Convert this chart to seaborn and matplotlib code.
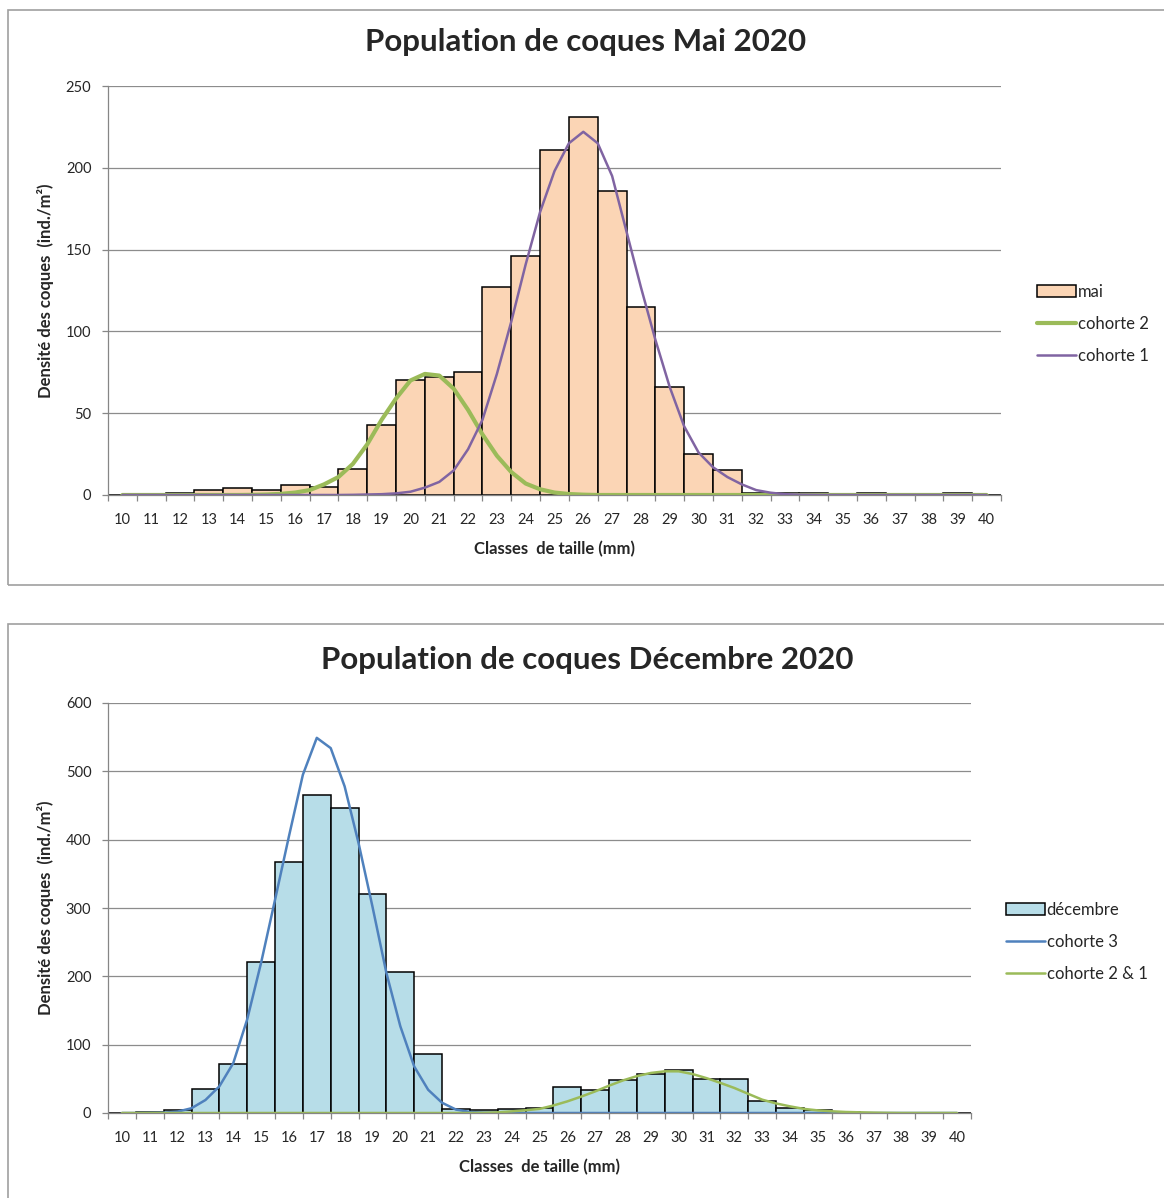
import numpy as np
import pandas as pd
import matplotlib.pyplot as plt
import seaborn as sns
from matplotlib.patches import Rectangle

sns.set_style('white')
plt.rcParams['font.family'] = ['Lato', 'DejaVu Sans']

# size classes (mm) and the positions where the fitted curves are sampled
classes = list(range(10, 41))
classes_fine = list(np.arange(10, 40.5, 0.5))

# May 2020 densities (ind./m2), one per class 10..40
mai = [0, 0, 1, 3, 4, 3, 6, 5, 16, 43, 70, 72, 75, 127, 146, 211,
       231, 186, 115, 66, 25, 15, 1.5, 1, 1, 0, 1, 0, 0, 1, 0]

# cohort curves, read every half mm from 10 to 40
cohorte2_mai = [0, 0, 0, 0, 0, 0, 0, 0, 0, 0.1, 0.3, 0.7, 1.5, 3, 6.5, 11,
                19, 31, 46, 59, 70, 74, 73, 65, 52, 37, 24, 14, 7, 3.5, 1.5,
                0.6, 0.2] + [0] * 28
cohorte1_mai = [0] * 16 + [0.1, 0.3, 0.5, 1, 2, 4.5, 8, 15, 28, 46, 74, 106,
                           141, 173, 198, 215, 222, 215, 195, 161, 127, 95,
                           66, 42, 26, 17, 11, 6.5, 3, 1.4, 0.5, 0.2,
                           0.1] + [0] * 12

# December 2020
decembre = [0, 2, 4, 35, 71, 221, 368, 465, 447, 320, 206, 86, 6, 4, 6, 8,
            38, 33, 48, 57, 63, 50, 50, 17, 7, 5, 2, 0, 0, 0, 0]
cohorte3_dec = [0, 0, 0.2, 0.5, 2, 7, 19, 39, 73, 137, 220, 312, 405, 495,
                549, 534, 478, 395, 302, 205, 127, 68, 34, 15, 5, 1.5, 0.5,
                0.2] + [0] * 33
cohorte21_dec = [0] * 26 + [0.3, 1, 2.4, 4, 6, 11, 17, 24, 31.6, 40, 47.7,
                            54, 58.6, 61, 61, 57, 51, 44, 36.6, 28, 19.5, 14,
                            9.7, 6, 3.8, 2.5, 1.5, 1, 0.5, 0.2] + [0] * 5

W, H = 1164, 1198
fig = plt.figure(figsize=(W / 100, H / 100), dpi=100)
ax1 = fig.add_axes([108 / W, 1 - 495 / H, 893 / W, 409 / H])
ax2 = fig.add_axes([108 / W, 1 - 1113 / H, 863 / W, 410 / H])

# panel borders
for y0, y1 in [(10, 585), (624, 1205)]:
    fig.patches.append(Rectangle((8 / W, 1 - y1 / H), 1.2, (y1 - y0) / H,
                                 transform=fig.transFigure, fill=False,
                                 ec='#a0a0a0', lw=1.2))


def draw(ax, bars, bar_label, bar_color, curves, ymax, ystep):
    df = pd.DataFrame({'classe': classes, 'densite': bars})
    sns.barplot(data=df, x='classe', y='densite', native_scale=True, width=1,
                color=bar_color, saturation=1, edgecolor='black',
                linewidth=1.1, errorbar=None, label=bar_label, ax=ax)
    for vals, lab, col, lw in curves:
        sns.lineplot(x=classes_fine, y=vals, color=col, lw=lw, label=lab,
                     solid_joinstyle='round', solid_capstyle='round', ax=ax)
    ax.set_xlim(9.5, 40.5)
    ax.set_ylim(0, ymax)
    ax.set_xticks(classes)
    ax.set_xticklabels([str(c) for c in classes])
    ax.set_xticks(np.arange(9.5, 41, 1), minor=True)
    ax.tick_params(axis='x', which='major', length=0, pad=13, labelsize=10.5)
    ax.tick_params(axis='x', which='minor', length=4.5, width=0.9,
                   color='#868686', bottom=True)
    ax.set_yticks(np.arange(0, ymax + 1, ystep))
    ax.tick_params(axis='y', length=4, width=0.9, color='#868686', pad=8,
                   labelsize=10.5, left=True)
    ax.yaxis.grid(True, color='#8c8c8c', lw=0.9)
    ax.set_axisbelow(True)
    for s in ['top', 'right']:
        ax.spines[s].set_visible(False)
    for s in ['left', 'bottom']:
        ax.spines[s].set_color('#868686')
        ax.spines[s].set_linewidth(0.9)
    ax.set_xlabel('Classes  de taille (mm)', fontweight='bold', fontsize=12)
    ax.xaxis.set_label_coords(0.5, -0.112)
    ax.set_ylabel('Densité des coques  (ind./m²)', fontweight='bold',
                  fontsize=12)
    ax.yaxis.set_label_coords(-54 / (ax.get_position().width * W), 0.5)


draw(ax1, mai, 'mai', '#fbd5b5',
     [(cohorte2_mai, 'cohorte 2', '#9bbb59', 3.0),
      (cohorte1_mai, 'cohorte 1', '#8064a2', 1.8)], 250, 50)
draw(ax2, decembre, 'décembre', '#b7dde8',
     [(cohorte3_dec, 'cohorte 3', '#4f81bd', 1.8),
      (cohorte21_dec, 'cohorte 2 & 1', '#9bbb59', 1.8)], 600, 100)

for ax, order, x0, yc in [(ax1, ['mai', 'cohorte 2', 'cohorte 1'], 1029, 324),
                          (ax2, ['décembre', 'cohorte 3', 'cohorte 2 & 1'],
                           998, 942)]:
    h, l = ax.get_legend_handles_labels()
    hd = dict(zip(l, h))
    ax.legend([hd[k] for k in order], order, loc='center left',
              bbox_to_anchor=(x0 / W, 1 - yc / H),
              bbox_transform=fig.transFigure, frameon=False, borderpad=0,
              fontsize=12, handlelength=2.3, handletextpad=0.12,
              labelspacing=0.95, handleheight=0.75)

fig.text(586 / W, 1 - 42 / H, 'Population de coques Mai 2020',
         fontsize=22.5, fontweight='bold', ha='center', va='center')
fig.text(587 / W, 1 - 660 / H, 'Population de coques Décembre 2020',
         fontsize=22.5, fontweight='bold', ha='center', va='center')

plt.savefig('out.png', dpi=100)
